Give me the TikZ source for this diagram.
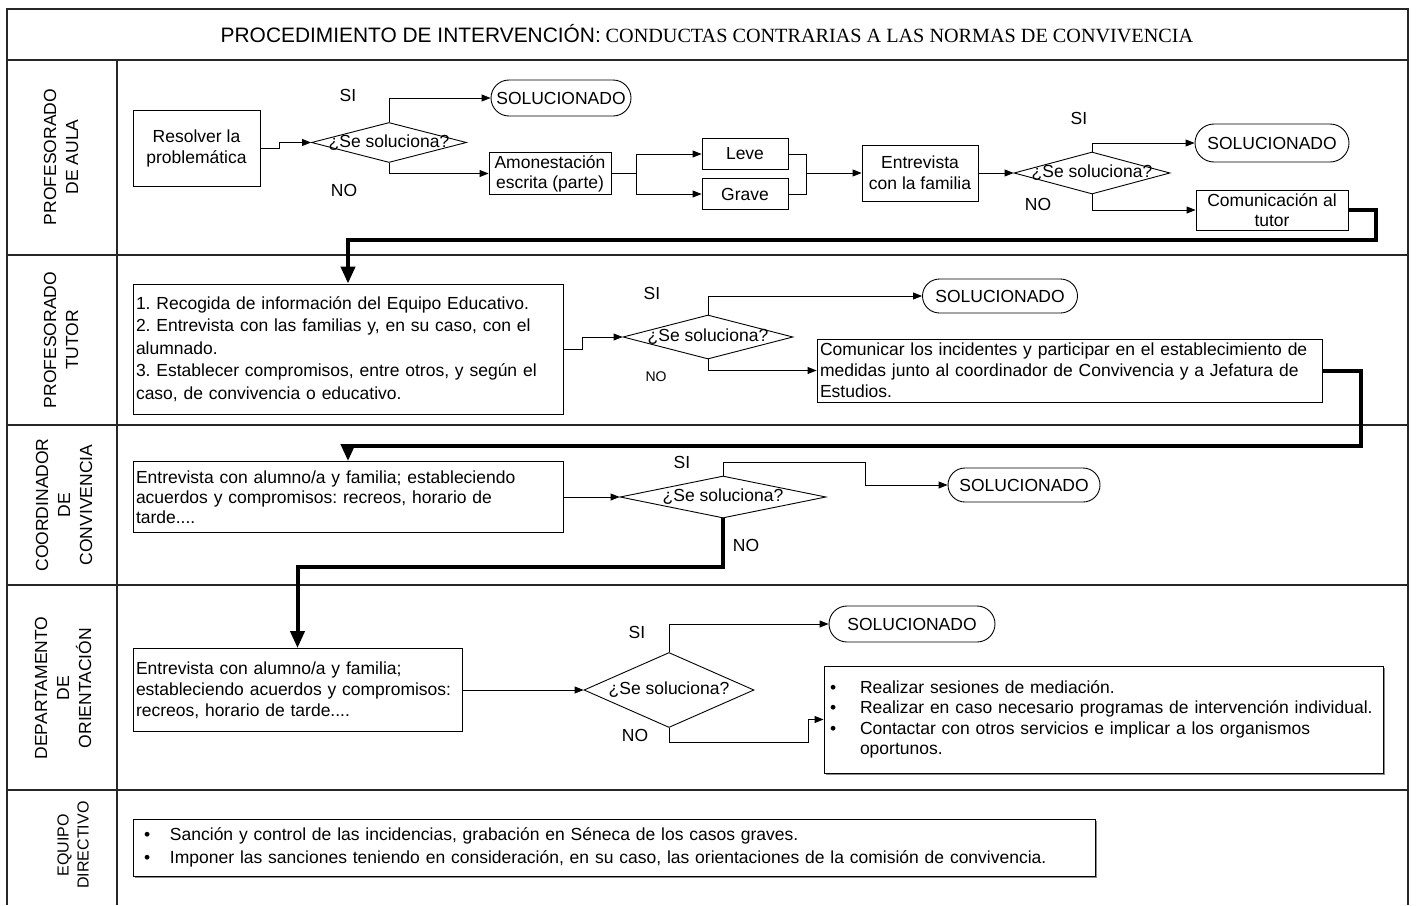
\documentclass[tikz,border=0pt]{standalone}
\usepackage{fontspec}
\setmainfont{Liberation Sans}
\newfontfamily\ttlserif{Liberation Serif}
\usetikzlibrary{shapes.geometric,arrows.meta,shadows}
\frenchspacing

\begin{document}
\begin{tikzpicture}[x=1pt,y=-1pt,
  font=\fontsize{17.5}{21}\selectfont,
  lane/.style={draw=black!85,line width=1.4pt},
  box/.style={draw,line width=0.9pt,align=center,inner sep=2pt},
  txt/.style={draw,line width=0.9pt,align=left,inner sep=3pt},
  listbox/.style={txt,fill=white,drop shadow={shadow xshift=2pt,shadow yshift=-2pt,fill=black!45,opacity=1}},
  term/.style={draw,line width=0.9pt,inner sep=0pt},
  dec/.style={draw,diamond,line width=0.9pt,inner sep=0pt},
  flow/.style={line width=0.9pt,-{Triangle[length=9pt,width=7pt]}},
  bigflow/.style={line width=4pt,-{Triangle[length=17pt,width=14pt]}},
  lbl/.style={rotate=90,align=center,font=\fontsize{17.5}{22}\selectfont}]
\useasboundingbox (0,0) rectangle (1416,905);
\draw[lane] (7,905) -- (7,9) -- (1408,9) -- (1408,905);
\foreach \y in {60,255,425,585,790} \draw[lane] (7,\y) -- (1408,\y);
\draw[lane] (117,60) -- (117,905);
\node (title) at (707,34) {{\fontsize{20.9}{24}\selectfont PROCEDIMIENTO DE INTERVENCIÓN:} {\ttlserif\fontsize{20.2}{24}\selectfont CONDUCTAS CONTRARIAS A LAS NORMAS DE CONVIVENCIA}};
\node[lbl] (lab1) at (61,157) {PROFESORADO\\DE AULA};
\node[lbl] (lab2) at (61,340) {PROFESORADO\\TUTOR};
\node[lbl] (lab3) at (64,505) {COORDINADOR\\DE\\CONVIVENCIA};
\node[lbl] (lab4) at (63,688) {DEPARTAMENTO\\DE\\ORIENTACIÓN};
\node[lbl,font=\fontsize{16}{20}\selectfont] (lab5) at (73,845) {EQUIPO\\DIRECTIVO};
\node[box,minimum width=127pt,minimum height=76pt] (res) at (196.5,148) {Resolver la\\problemática};
\node[dec,minimum width=155pt,minimum height=40pt,label=center:¿Se soluciona?] (dec1) at (389,142.5) {};
\node[term,minimum width=140pt,minimum height=36pt,rounded corners=18pt] (sol1) at (561,98) {SOLUCIONADO};
\node[box,minimum width=122pt,minimum height=42pt,font=\fontsize{17.5}{20}\selectfont] (amon) at (550,173.5) {Amonestación\\escrita (parte)};
\node[box,minimum width=86pt,minimum height=31pt] (leve) at (745,154) {Leve};
\node[box,minimum width=86pt,minimum height=31pt] (grave) at (745,194) {Grave};
\coordinate (fork) at (636,173.5);
\coordinate (join) at (806,173);
\node[box,minimum width=116pt,minimum height=56pt] (entr) at (920,173) {Entrevista\\con la familia};
\node[dec,minimum width=156pt,minimum height=42pt,label=center:¿Se soluciona?] (dec2) at (1092,173) {};
\node[term,minimum width=154pt,minimum height=38pt,rounded corners=19pt] (sol2) at (1272,143) {SOLUCIONADO};
\node[box,minimum width=152pt,minimum height=40pt,font=\fontsize{17.5}{20}\selectfont] (comtut) at (1272,210) {Comunicación al\\tutor};
\node (si1) at (348,95) {SI};
\node (no1) at (344,190) {NO};
\node (si2) at (1079,118) {SI};
\node (no2) at (1038,204) {NO};
\draw[flow] (res.east) -- ++(19,0) |- (dec1.west);
\draw[flow] (dec1.north) |- (sol1.west);
\draw[flow] (dec1.south) |- (amon.west);
\draw (amon.east) -- (fork);
\draw[flow] (fork) |- (leve.west);
\draw[flow] (fork) |- (grave.west);
\draw (leve.east) -| (join) |- (grave.east);
\draw[flow] (join) -- (entr.west);
\draw[flow] (entr.east) -- (dec2.west);
\draw[flow] (dec2.north) |- (sol2.west);
\draw[flow] (dec2.south) |- (comtut.west);
\node[txt,text width=424pt,minimum height=130pt,font=\fontsize{17.5}{22.5}\selectfont] (tut) at (348,349) {1. Recogida de información del Equipo Educativo.\\2. Entrevista con las familias y, en su caso, con el\\alumnado.\\3. Establecer compromisos, entre otros, y según el\\caso, de convivencia o educativo.};
\node[dec,minimum width=170pt,minimum height=44pt,label=center:¿Se soluciona?] (dec3) at (708,337) {};
\node[term,minimum width=155pt,minimum height=34pt,rounded corners=17pt] (sol3) at (1000,296) {SOLUCIONADO};
\node[txt,text width=499pt,minimum height=63pt] (comjef) at (1069.5,370.5) {Comunicar los incidentes y participar en el establecimiento de\\medidas junto al coordinador de Convivencia y a Jefatura de\\Estudios.};
\node (si3) at (652,293) {SI};
\node[font=\fontsize{14}{16}\selectfont] (no3) at (656,377) {NO};
\draw[bigflow] (comtut.east) -| (1376,240) -| (tut.north);
\draw[flow] (tut.east) -- ++(19,0) |- (dec3.west);
\draw[flow] (dec3.north) |- (sol3.west);
\draw[flow] (dec3.south) |- (comjef.west);
\node[txt,text width=424pt,minimum height=71pt,font=\fontsize{17.5}{20}\selectfont] (coord) at (348,497) {Entrevista con alumno/a y familia; estableciendo\\acuerdos y compromisos: recreos, horario de\\tarde....};
\node[dec,minimum width=206pt,minimum height=42pt,label=center:¿Se soluciona?] (dec4) at (723,497) {};
\node[term,minimum width=152pt,minimum height=34pt,rounded corners=17pt] (sol4) at (1024,485) {SOLUCIONADO};
\node (si4) at (682,462) {SI};
\node (no4) at (746,545) {NO};
\draw[bigflow] (comjef.east) -| (1361,446) -| (coord.north);
\draw[flow] (coord.east) -- (dec4.west);
\draw[flow] (dec4.north) |- (865,462) |- (sol4.west);
\node[txt,text width=323pt,minimum height=83pt] (orien) at (297.5,690) {Entrevista con alumno/a y familia;\\estableciendo acuerdos y compromisos:\\recreos, horario de tarde....};
\node[dec,minimum width=170pt,minimum height=75pt,label=center:¿Se soluciona?] (dec5) at (669,690) {};
\node[term,minimum width=166pt,minimum height=36pt,rounded corners=18pt] (sol5) at (912,624) {SOLUCIONADO};
\node[listbox,text width=553pt,minimum height=107pt,font=\fontsize{17.5}{20.5}\selectfont] (medi) at (1103.5,719.5) {\makebox[33pt][l]{\hspace{3pt}\textbullet}Realizar sesiones de mediación.\\\makebox[33pt][l]{\hspace{3pt}\textbullet}Realizar en caso necesario programas de intervención individual.\\\makebox[33pt][l]{\hspace{3pt}\textbullet}Contactar con otros servicios e implicar a los organismos\\\hspace*{33pt}oportunos.};
\node (si5) at (637,632) {SI};
\node (no5) at (635,735) {NO};
\draw[bigflow] (dec4.south) -- ++(0,49) -| (orien.north);
\draw[flow] (orien.east) -- (dec5.west);
\draw[flow] (dec5.north) |- (sol5.west);
\draw[flow] (dec5.south) |- (808,742) |- (medi.west);
\node[listbox,text width=956pt,minimum height=57pt,font=\fontsize{17.5}{23}\selectfont] (sanc) at (614,847.5) {\makebox[34pt][l]{\hspace{8pt}\textbullet}Sanción y control de las incidencias, grabación en Séneca de los casos graves.\\\makebox[34pt][l]{\hspace{8pt}\textbullet}Imponer las sanciones teniendo en consideración, en su caso, las orientaciones de la comisión de convivencia.};
\end{tikzpicture}
\end{document}
